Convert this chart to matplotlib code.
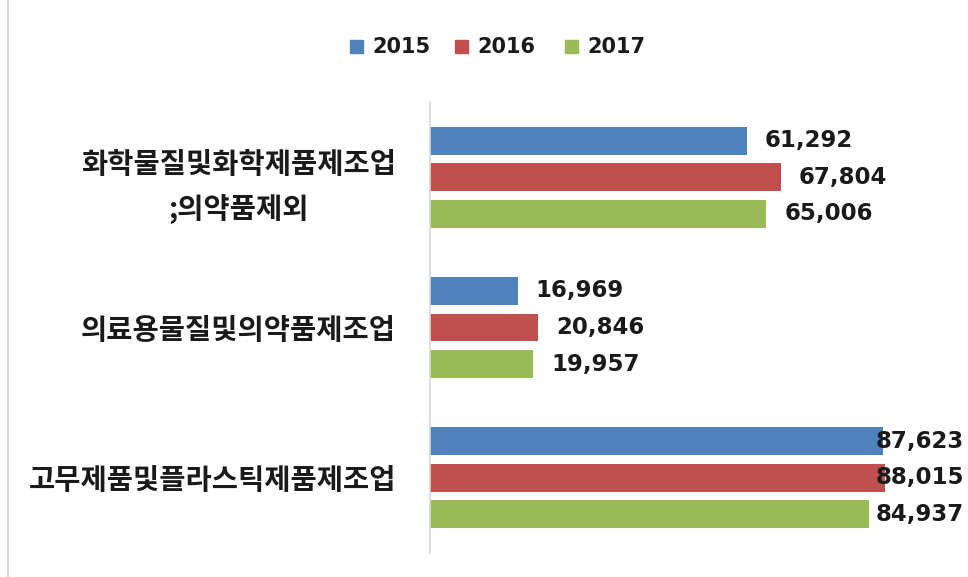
import matplotlib
matplotlib.use("Agg")
import matplotlib.pyplot as plt
from matplotlib.patches import Rectangle
import numpy as np

plt.rcParams['font.family'] = ['Noto Sans CJK KR', 'DejaVu Sans']

categories = ['화학물질및화학제품제조업\n;의약품제외', '의료용물질및의약품제조업', '고무제품및플라스틱제품제조업']
years = ['2015', '2016', '2017']
v2015 = [61292, 16969, 87623]
v2016 = [67804, 20846, 88015]
v2017 = [65006, 19957, 84937]
colors = ['#4F81BD', '#C0504D', '#9BBB59']

W, H = 968, 577
fig = plt.figure(figsize=(W / 100, H / 100), dpi=100)
ax = fig.add_axes([430 / W, 1 - 553 / H, 517 / W, 451 / H])

y = np.arange(len(categories))
step = 0.243
bh = 0.185
series = [v2015, v2016, v2017]
texts = []
for i, (vals, c, yr) in enumerate(zip(series, colors, years)):
    pos = y + (i - 1) * step
    ax.barh(pos, vals, height=bh, color=c, label=yr)
    for p, v in zip(pos, vals):
        t = ax.annotate(f'{v:,}', (v, p), xytext=(13, 0), textcoords='offset points',
                        ha='left', va='center', fontsize=16.5, fontweight='bold',
                        family='DejaVu Sans', color='#1a1a1a')
        texts.append(t)

ax.set_xlim(0, 100000)
ax.set_ylim(2.5, -0.5)
ax.set_yticks(y)
ax.set_yticklabels(categories, fontsize=20.5, fontweight='bold', color='#1a1a1a',
                   linespacing=1.6, ha='right', multialignment='center')
ax.tick_params(axis='y', length=0, pad=34 * 72 / 100)
ax.set_xticks([])
for s in ['top', 'right', 'bottom']:
    ax.spines[s].set_visible(False)
ax.spines['left'].set_color('#d9d9d9')
ax.spines['left'].set_linewidth(1.2)

# keep labels inside the figure on the long bars
fig.canvas.draw()
r = fig.canvas.get_renderer()
for t in texts:
    bb = t.get_window_extent(r)
    if bb.x1 > W - 3:
        t.xy = (1, t.xy[1])
        t.xycoords = ('figure fraction', 'data')
        t.set_ha('right')
        t.set_position((-3, 0))

# legend
leg_x = [350, 455, 565]
for xs, c, yr in zip(leg_x, colors, years):
    fig.patches.append(Rectangle((xs / W, 1 - 53 / H), 13 / W, 13 / H,
                                 transform=fig.transFigure, color=c))
    fig.text((xs + 22) / W, 1 - 47 / H, yr, fontsize=15, fontweight='bold',
             family='DejaVu Sans', color='#1a1a1a', va='center', ha='left')

# frame line on the left edge
fig.add_artist(plt.Line2D([8 / W, 8 / W], [0, 1], color='#d9d9d9', lw=1.5))

fig.savefig('out.png', dpi=100)
